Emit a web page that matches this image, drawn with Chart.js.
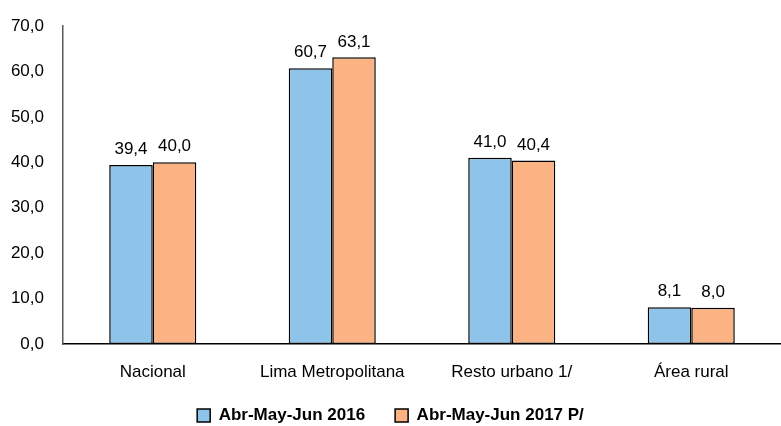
<!DOCTYPE html>
<html>
<head>
  <meta charset="UTF-8">
  <script src="https://cdn.jsdelivr.net/npm/chart.js"></script>
  <style>
    html, body { margin: 0; padding: 0; background: #fff; }
    .cont { width: 781px; height: 426px; }
  </style>
</head>
<body>
  <div class="cont">
    <canvas id="myChart"></canvas>
  </div>
  <script>
    const categorias = ['Nacional', 'Lima Metropolitana', 'Resto urbano 1/', 'Área rural'];
    const serie2016 = [39.4, 60.7, 41.0, 8.1];
    const serie2017 = [40.0, 63.1, 40.4, 8.0];
    const nombres = ['Abr-May-Jun 2016', 'Abr-May-Jun 2017 P/'];
    const yMin = 0, yMax = 70, yPaso = 10;

    const fuente = "'Liberation Sans', Arial, sans-serif";

    function coma(v) {
      return v.toFixed(1).replace('.', ',');
    }

    // etiquetas de valor encima de cada barra
    const etiquetas = {
      id: 'etiquetas',
      afterDatasetsDraw(chart) {
        const ctx = chart.ctx;
        ctx.save();
        ctx.font = '17px ' + fuente;
        ctx.fillStyle = '#000';
        ctx.textAlign = 'center';
        ctx.textBaseline = 'bottom';
        chart.data.datasets.forEach((ds, i) => {
          chart.getDatasetMeta(i).data.forEach((bar, j) => {
            ctx.fillText(coma(ds.data[j]), bar.x, bar.y - 7);
          });
        });
        ctx.restore();
      }
    };

    // alto fijo para la leyenda y subirla un poco
    const altoLeyenda = {
      id: 'altoLeyenda',
      beforeLayout(chart) {
        const lg = chart.legend;
        if (lg && !lg._parcheado) {
          const fitOrig = lg.fit;
          lg.fit = function () {
            fitOrig.call(this);
            this.height = 40;
          };
          lg._parcheado = true;
        }
      },
      afterLayout(chart) {
        const lg = chart.legend;
        if (lg) {
          lg.top -= 9;
        }
      }
    };

    var ctx = document.getElementById('myChart').getContext('2d');
    var chart = new Chart(ctx, {
      type: 'bar',
      data: {
        labels: categorias,
        datasets: [{
          label: nombres[0],
          data: serie2016,
          backgroundColor: '#8EC4E9',
          borderColor: '#000',
          borderWidth: 1.5,
          borderSkipped: false
        }, {
          label: nombres[1],
          data: serie2017,
          backgroundColor: '#FCB384',
          borderColor: '#000',
          borderWidth: 1.5,
          borderSkipped: false
        }]
      },
      options: {
        responsive: true,
        maintainAspectRatio: false,
        animation: false,
        layout: { padding: { top: 26, right: 0, left: 0, bottom: 0 } },
        datasets: {
          bar: { categoryPercentage: 0.485, barPercentage: 1 }
        },
        plugins: {
          tooltip: { enabled: false },
          legend: {
            position: 'bottom',
            labels: {
              color: '#000',
              font: { family: fuente, size: 17, weight: 'bold' },
              boxWidth: 13,
              boxHeight: 13,
              padding: 30
            }
          }
        },
        scales: {
          x: {
            grid: { display: false },
            border: { display: true, color: '#000', width: 1.5 },
            ticks: {
              color: '#000',
              font: { family: fuente, size: 17 },
              padding: 10,
              maxRotation: 0
            },
            afterFit(scale) { scale.height = 42; }
          },
          y: {
            min: yMin,
            max: yMax,
            grid: { display: false },
            border: { display: true, color: '#595959', width: 1.5 },
            ticks: {
              stepSize: yPaso,
              color: '#000',
              font: { family: fuente, size: 17 },
              padding: 11,
              callback: v => coma(v)
            },
            afterFit(scale) { scale.width = 63; }
          }
        }
      },
      plugins: [etiquetas, altoLeyenda]
    });
  </script>
</body>
</html>
